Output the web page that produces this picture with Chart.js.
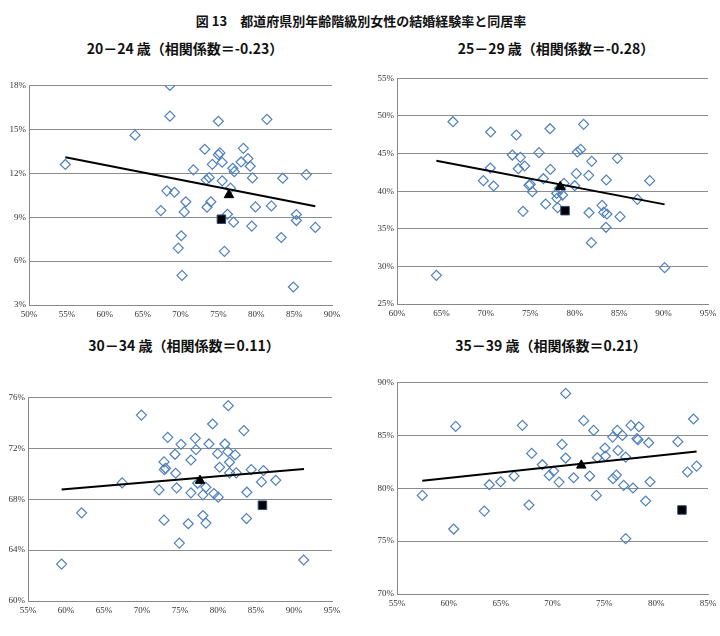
<!DOCTYPE html>
<html lang="ja">
<head>
<meta charset="UTF-8">
<title>図13 都道府県別年齢階級別女性の結婚経験率と同居率</title>
<script src="https://cdn.jsdelivr.net/npm/chart.js"></script>
<style>
  body { margin: 0; background: #fff; width: 720px; height: 636px; position: relative; overflow: hidden; }
  .ttl { position: absolute; font-family: "Noto Sans CJK JP", sans-serif; font-weight: bold; color: #111; white-space: nowrap; transform: translate(-50%, -50%); }
  .main { font-size: 13px; }
  .sub { font-size: 14px; }
  canvas { position: absolute; }
</style>
</head>
<body>

<div class="ttl main" style="left:361px; top:20px;">図 13　都道府県別年齢階級別女性の結婚経験率と同居率</div>
<div class="ttl sub" style="left:185px; top:48px;">20－24 歳（相関係数＝-0.23）</div>
<div class="ttl sub" style="left:556px; top:48px;">25－29 歳（相関係数＝-0.28）</div>
<div class="ttl sub" style="left:184px; top:345px;">30－34 歳（相関係数＝0.11）</div>
<div class="ttl sub" style="left:551px; top:345px;">35－39 歳（相関係数＝0.21）</div>

<canvas id="c1"></canvas>
<canvas id="c2"></canvas>
<canvas id="c3"></canvas>
<canvas id="c4"></canvas>

<script>
  // 20-24歳 (x: 結婚経験率? / y: 同居率, %)
  const x2024 = [54.8,64.0,68.6,68.6,67.4,68.2,69.2,70.7,70.5,70.1,69.7,70.2,71.7,73.2,73.4,73.8,73.5,74.0,74.2,75.0,75.0,75.2,75.5,75.5,75.8,76.2,76.6,76.9,77.1,77.0,78.0,78.3,78.9,79.2,79.5,79.4,79.9,81.4,82.0,83.5,83.3,84.9,85.3,85.3,86.6,87.8];
  const y2024 = [12.6,14.6,18.0,15.9,9.45,10.8,10.7,10.05,9.36,7.73,6.89,5.02,12.23,13.64,11.55,11.7,9.68,10.05,12.61,15.55,13.27,13.39,12.75,11.48,6.66,9.2,10.98,12.34,12.11,8.66,12.77,13.7,13.0,12.48,11.68,8.39,9.7,15.68,9.77,11.66,7.61,4.23,9.18,8.77,11.91,8.3];
  const tri2024 = [76.4, 10.52];
  const sq2024 = [75.4, 8.86];
  const trendX2024 = [54.8, 87.8];
  const trendY2024 = [13.09, 9.75];

  // 25-29歳
  const x2529 = [64.43,66.3,70.54,70.5,70.88,69.72,73.43,72.98,73.88,73.65,74.37,74.18,75.0,74.85,75.23,75.98,76.73,76.47,77.22,77.26,77.97,78.0,78.08,78.27,78.42,78.64,78.79,80.0,80.18,80.3,80.67,81.0,81.61,81.57,81.91,81.87,83.07,83.26,83.63,83.56,83.52,84.8,85.1,87.05,88.44,90.12];
  const y2529 = [28.81,49.24,47.87,43.08,40.69,41.4,47.47,44.81,44.5,42.99,43.35,37.32,40.91,40.8,39.94,45.12,38.3,41.66,48.31,42.9,39.71,39.05,37.81,40.38,40.25,39.49,41.04,40.73,42.33,45.21,45.56,48.89,37.14,42.11,43.97,33.16,38.12,37.19,36.97,41.49,35.2,44.37,36.61,38.92,41.4,29.83];
  const tri2529 = [78.38, 40.6];
  const sq2529 = [78.91, 37.41];
  const trendX2529 = [64.43, 90.12];
  const trendY2529 = [44.06, 38.25];

  // 30-34歳
  const x3034 = [59.42,62.05,67.39,69.92,72.24,72.9,72.94,73.1,73.38,72.9,74.34,74.43,74.56,75.13,74.91,76.09,76.44,76.44,77.01,77.1,77.32,78.02,78.02,78.41,78.41,78.81,79.29,79.46,80.03,79.95,80.21,80.91,81.35,81.3,81.52,81.52,82.26,82.4,83.4,83.8,83.75,84.37,85.98,85.72,87.6,91.28];
  const y3034 = [62.9,66.93,69.28,74.61,68.73,70.93,70.33,70.43,72.86,66.35,71.53,70.04,68.89,72.31,64.55,66.07,71.08,68.5,72.78,71.9,69.25,66.72,68.34,68.94,66.12,72.34,73.91,68.44,68.16,71.58,70.51,72.34,75.35,71.74,70.9,70.07,71.48,70.07,73.39,68.55,66.48,70.33,70.25,69.36,69.49,63.22];
  const tri3034 = [77.63, 69.46];
  const sq3034 = [85.85, 67.53];
  const trendX3034 = [59.42, 91.32];
  const trendY3034 = [68.76, 70.38];

  // 35-39歳
  const x3539 = [57.44,60.66,60.47,63.42,63.91,65.0,66.29,67.09,67.99,67.73,69.02,69.69,70.11,70.63,70.92,71.27,71.27,72.04,73.01,73.59,73.97,74.23,74.32,75.06,75.1,75.8,75.84,76.16,76.25,76.32,76.74,76.86,77.06,77.06,77.57,77.77,78.15,78.25,78.34,78.99,79.28,79.41,82.09,83.02,83.6,83.9];
  const y3539 = [79.32,85.84,76.14,77.84,80.33,80.61,81.15,85.94,83.29,78.41,82.22,81.21,81.62,80.58,84.14,82.85,88.96,80.99,86.38,81.15,85.46,79.32,82.88,83.8,83.04,84.83,80.9,81.24,85.46,83.57,84.99,80.27,82.94,75.23,85.94,80.02,84.68,84.58,85.81,78.79,84.3,80.61,84.39,81.53,86.54,82.09];
  const tri3539 = [72.78, 82.16];
  const sq3539 = [82.49, 77.94];
  const trendX3539 = [57.44, 83.9];
  const trendY3539 = [80.71, 83.48];

  // axis ranges [min, max, step]
  const xAxis2024 = [50, 90, 5], yAxis2024 = [3, 18, 3];
  const xAxis2529 = [60, 95, 5], yAxis2529 = [25, 55, 5];
  const xAxis3034 = [55, 95, 5], yAxis3034 = [60, 76, 4];
  const xAxis3539 = [55, 85, 5], yAxis3539 = [70, 90, 5];

  const toPts = (xs, ys) => xs.map((x, i) => ({ x: x, y: ys[i] }));

  // plot area boxes in page px: left, top, width, height
  const panels = [
    { id: 'c1', box: [29, 85, 303, 220], xs: x2024, ys: y2024, tri: tri2024, sq: sq2024, tx: trendX2024, ty: trendY2024, xa: xAxis2024, ya: yAxis2024 },
    { id: 'c2', box: [397, 78, 311, 226], xs: x2529, ys: y2529, tri: tri2529, sq: sq2529, tx: trendX2529, ty: trendY2529, xa: xAxis2529, ya: yAxis2529 },
    { id: 'c3', box: [28, 397, 304, 204], xs: x3034, ys: y3034, tri: tri3034, sq: sq3034, tx: trendX3034, ty: trendY3034, xa: xAxis3034, ya: yAxis3034 },
    { id: 'c4', box: [397, 382, 311, 212], xs: x3539, ys: y3539, tri: tri3539, sq: sq3539, tx: trendX3539, ty: trendY3539, xa: xAxis3539, ya: yAxis3539 }
  ];

  const Y_W = 28, X_H = 20, PAD_T = 8, PAD_R = 14;
  const tickFont = { family: '"Liberation Serif", serif', size: 9 };

  panels.forEach(p => {
    const cv = document.getElementById(p.id);
    const [l, t, w, h] = p.box;
    cv.width = Y_W + w + PAD_R;
    cv.height = PAD_T + h + X_H;
    cv.style.left = (l - Y_W) + 'px';
    cv.style.top = (t - PAD_T) + 'px';

    new Chart(cv.getContext('2d'), {
      type: 'scatter',
      data: {
        datasets: [
          {
            label: '平均',
            data: [{ x: p.tri[0], y: p.tri[1] }],
            pointStyle: 'triangle',
            pointRadius: 5.5,
            backgroundColor: '#000',
            borderColor: '#000',
            borderWidth: 1,
            order: 1
          },
          {
            label: '東京',
            data: [{ x: p.sq[0], y: p.sq[1] }],
            pointStyle: 'rect',
            pointRadius: 6,
            backgroundColor: '#000',
            borderColor: '#2b4a7a',
            borderWidth: 1,
            order: 0
          },
          {
            label: '近似直線',
            type: 'line',
            data: toPts(p.tx, p.ty),
            borderColor: '#000',
            borderWidth: 2,
            pointRadius: 0,
            fill: false,
            order: 2
          },
          {
            label: '都道府県',
            data: toPts(p.xs, p.ys),
            pointStyle: 'rectRot',
            pointRadius: 5,
            backgroundColor: 'rgba(255,255,255,0)',
            borderColor: '#4f81bd',
            borderWidth: 1.2,
            order: 3
          }
        ]
      },
      options: {
        responsive: false,
        animation: false,
        layout: { padding: { top: PAD_T, right: PAD_R, left: 0, bottom: 0 } },
        plugins: { legend: { display: false }, tooltip: { enabled: false } },
        scales: {
          x: {
            type: 'linear',
            min: p.xa[0], max: p.xa[1],
            ticks: { stepSize: p.xa[2], font: tickFont, color: '#333', padding: 4, maxRotation: 0,
              callback: v => v + '%' },
            grid: { display: false, drawTicks: false },
            border: { display: true, color: '#888', width: 1 },
            afterFit: s => { s.height = X_H; }
          },
          y: {
            min: p.ya[0], max: p.ya[1],
            ticks: { stepSize: p.ya[2], font: tickFont, color: '#333', padding: 3,
              callback: v => v + '%' },
            grid: { color: '#8c8c8c', lineWidth: 1, drawTicks: false },
            border: { display: true, color: '#888', width: 1 },
            afterFit: s => { s.width = Y_W; }
          }
        }
      }
    });
  });
</script>
</body>
</html>
